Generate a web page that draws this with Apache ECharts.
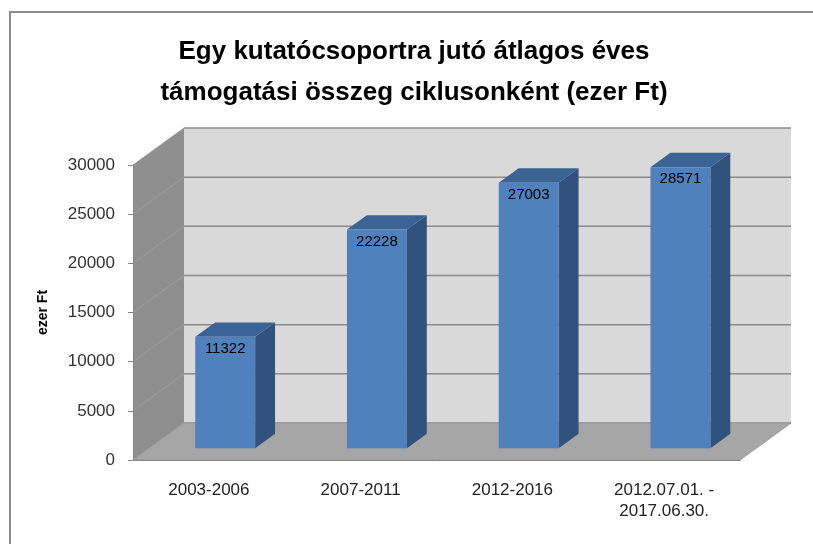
<!DOCTYPE html>
<html>
<head>
<meta charset="utf-8">
<script src="https://cdn.jsdelivr.net/npm/echarts@6/dist/echarts.min.js"></script>
<style>
  html, body { margin: 0; padding: 0; background: #fff; }
  #chart { width: 813px; height: 544px; }
</style>
</head>
<body>
<div id="chart"></div>
<script>
// adatok
const categories = ['2003-2006', '2007-2011', '2012-2016', '2012.07.01. -\n2017.06.30.'];
const values = [11322, 22228, 27003, 28571];
const yTicks = [0, 5000, 10000, 15000, 20000, 25000, 30000];

// 3D hatás: mélység vektor (teljes mélység), oszlop helyzete a mélységben
const DEPTH = [51, -37];
const BAR_FRONT = 0.32;
const BAR_DEPTH = 0.39;
const BAR_WIDTH = 0.395;

// oldalfal, hátfal, padló + rácsvonalak
function renderWalls(params, api) {
  const cs = params.coordSys;
  const x0 = cs.x, x1 = cs.x + cs.width;
  const yt = cs.y, yb = cs.y + cs.height;
  const dx = DEPTH[0], dy = DEPTH[1];
  const children = [
    {
      type: 'polygon',
      shape: { points: [[x0, yt], [x0 + dx, yt + dy], [x0 + dx, yb + dy], [x0, yb]] },
      style: { fill: '#8f8f8f' }
    },
    {
      type: 'rect',
      shape: { x: x0 + dx, y: yt + dy, width: cs.width, height: cs.height },
      style: { fill: '#d9d9d9' }
    }
  ];
  yTicks.forEach((v) => {
    const y = api.coord([0, v])[1];
    children.push({
      type: 'line',
      shape: { x1: x0, y1: y, x2: x0 + dx, y2: y + dy },
      style: { stroke: '#9c9c9c', lineWidth: 1 }
    });
    children.push({
      type: 'line',
      shape: { x1: x0 + dx, y1: y + dy, x2: x1 + dx, y2: y + dy },
      style: { stroke: '#8a8a8a', lineWidth: 1.5 }
    });
  });
  children.push({
    type: 'polygon',
    shape: { points: [[x0, yb], [x0 + dx, yb + dy], [x1 + dx, yb + dy], [x1, yb]] },
    style: { fill: '#a6a6a6', stroke: '#9a9a9a', lineWidth: 1 }
  });
  return { type: 'group', children };
}

// 3D oszlopok
function renderBar(params, api) {
  const i = api.value(0);
  const v = api.value(1);
  const base = api.coord([i, 0]);
  const top = api.coord([i, v]);
  const band = api.size([1, 0])[0];
  const w = band * BAR_WIDTH;
  const ox = DEPTH[0] * BAR_FRONT, oy = DEPTH[1] * BAR_FRONT;
  const bx = DEPTH[0] * BAR_DEPTH, by = DEPTH[1] * BAR_DEPTH;
  const xl = base[0] - w / 2 + ox, xr = xl + w;
  const yb = base[1] + oy, yt = top[1] + oy;
  return {
    type: 'group',
    children: [
      {
        type: 'polygon',
        shape: { points: [[xr, yt], [xr + bx, yt + by], [xr + bx, yb + by], [xr, yb]] },
        style: { fill: '#31527c' }
      },
      {
        type: 'polygon',
        shape: { points: [[xl, yt], [xl + bx, yt + by], [xr + bx, yt + by], [xr, yt]] },
        style: { fill: '#3b6393' }
      },
      {
        type: 'rect',
        shape: { x: xl, y: yt, width: w, height: yb - yt },
        style: { fill: '#4f81bd' }
      },
      {
        type: 'text',
        x: (xl + xr) / 2,
        y: yt + 12,
        style: {
          text: String(v),
          fill: '#000',
          font: '15px "Liberation Sans"',
          align: 'center',
          verticalAlign: 'middle'
        }
      }
    ]
  };
}

const chart = echarts.init(document.getElementById('chart'));
chart.setOption({
  backgroundColor: '#fff',
  animation: false,
  graphic: [
    {
      type: 'rect',
      z: -10,
      shape: { x: 10, y: 12, width: 900, height: 900 },
      style: { fill: '#fff', stroke: '#8c8c8c', lineWidth: 2 }
    }
  ],
  title: {
    text: 'Egy kutatócsoportra jutó átlagos éves\ntámogatási összeg ciklusonként (ezer Ft)',
    left: 409,
    textAlign: 'center',
    top: 26,
    textStyle: {
      fontFamily: '"Liberation Sans"',
      fontWeight: 'bold',
      fontSize: 26,
      lineHeight: 41,
      color: '#000'
    }
  },
  grid: { left: 133, right: 73, top: 165, bottom: 84 },
  xAxis: {
    type: 'category',
    data: categories,
    z: 10,
    axisLine: { lineStyle: { color: '#868686' } },
    axisTick: { length: 5, lineStyle: { color: '#868686' } },
    axisLabel: {
      margin: 20,
      fontFamily: '"Liberation Sans"',
      fontSize: 17,
      lineHeight: 21,
      color: '#222'
    }
  },
  yAxis: {
    type: 'value',
    min: 0,
    max: 30000,
    interval: 5000,
    z: 10,
    name: 'ezer Ft',
    nameLocation: 'middle',
    nameGap: 83,
    nameRotate: 90,
    nameTextStyle: {
      fontFamily: '"Liberation Sans"',
      fontWeight: 'bold',
      fontSize: 14,
      color: '#000'
    },
    axisLine: { show: true, lineStyle: { color: '#868686' } },
    axisTick: { show: true, length: 5, lineStyle: { color: '#868686' } },
    axisLabel: {
      margin: 18,
      fontFamily: '"Liberation Sans"',
      fontSize: 17,
      color: '#333',
      formatter: (v) => String(v)
    },
    splitLine: { show: false }
  },
  series: [
    {
      type: 'custom',
      name: 'walls',
      z: 1,
      silent: true,
      data: [[0, 0]],
      renderItem: renderWalls
    },
    {
      type: 'custom',
      name: 'ezer Ft',
      z: 3,
      data: values.map((v, i) => [i, v]),
      renderItem: renderBar
    }
  ]
});
</script>
</body>
</html>
